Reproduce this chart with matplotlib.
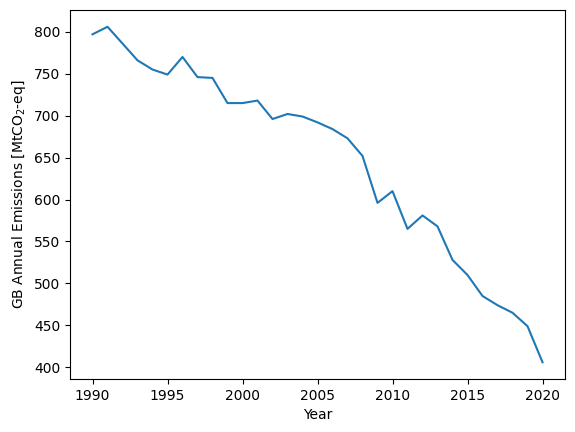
import matplotlib
matplotlib.use("Agg")
import matplotlib.pyplot as plt

years = list(range(1990, 2021))
emissions = [797, 806, 786, 766, 755, 749, 770, 746, 745, 715, 715, 718, 696, 702, 699,
             692, 684, 673, 652, 596, 610, 565, 581, 568, 528, 510, 485, 474, 465, 449, 406]

fig = plt.figure(figsize=(5.75, 4.32), dpi=100)
ax = fig.add_axes([70/575, 53/432, 495/575, 369/432])
ax.plot(years, emissions)
ax.set_xlabel("Year")
ax.set_ylabel("GB Annual Emissions [MtCO$_2$-eq]")
fig.savefig("out.png", dpi=100)
